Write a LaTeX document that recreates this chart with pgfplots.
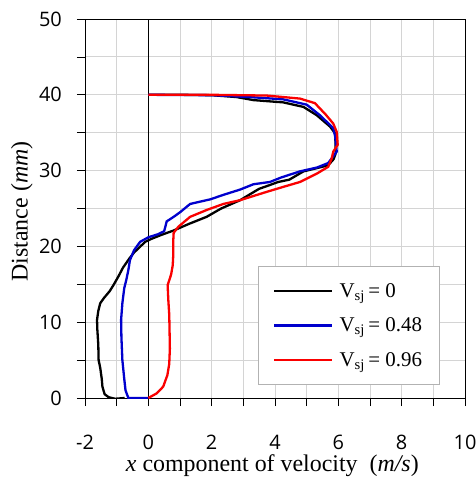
\documentclass[border=0pt]{standalone}
\usepackage{fontspec}
\setmainfont{Liberation Serif}
\newfontfamily\tickfont{Open Sans}
\usepackage{pgfplots}
\pgfplotsset{compat=1.18}
\definecolor{gridgray}{RGB}{212,212,212}
\definecolor{myblue}{RGB}{0,0,205}
\definecolor{myred}{RGB}{250,0,0}
\pgfplotsset{mylegline/.style={legend image code/.code={\draw[##1] (0bp,0bp) -- (58bp,0bp);}}}
\begin{document}
\begin{tikzpicture}
\begin{axis}[
  name=main,
  scale only axis, width=380bp, height=379bp,
  xmin=-2, xmax=10, ymin=0, ymax=50,
  xtick={-2,0,...,10}, minor xtick={-1,1,...,9},
  ytick={0,10,...,50}, minor ytick={5,15,...,45},
  grid=both,
  major grid style={gridgray, line width=1pt},
  minor grid style={gridgray, line width=1pt},
  axis line style={black, line width=1pt},
  tick align=outside, major tick length=8bp, minor tick length=8bp,
  tick style={black, line width=0.8pt},
  xtick pos=bottom, ytick pos=left,
  /pgf/number format/assume math mode=true,
  tick label style={font=\tickfont\fontsize{20}{24}\selectfont, inner sep=1bp},
  xticklabel style={yshift=-28bp},
  yticklabel style={xshift=-14bp},
  label style={font=\fontsize{24}{28}\selectfont, inner sep=0pt},
  xlabel={\textit{x} component of velocity~~(\textit{m/s})},
  xlabel style={at={(axis description cs:0.493,-0.178)}, anchor=center},
  ylabel={Distance (\textit{mm})},
  ylabel style={at={(axis description cs:-0.166,0.492)}, anchor=center},
  legend style={at={(axis cs:3.46,17.4)}, anchor=north west, draw=gray!60, line width=0.8pt,
    font=\fontsize{21}{24}\selectfont, row sep=15bp, column sep=4bp, inner xsep=15bp, inner ysep=15bp},
  legend cell align=left,
]
\draw[black, line width=0.8pt] (axis cs:0,0) -- (axis cs:0,50);
\addplot[black, line width=2.3bp, mylegline] coordinates {
(-0.75,0.0) (-1.05,-0.1) (-1.25,0.1) (-1.38,0.5) (-1.45,1.5) (-1.47,2.5) (-1.52,4.0) (-1.57,5.0) (-1.58,7) (-1.61,9) (-1.62,10.3) (-1.58,11.5) (-1.52,12.5) (-1.4,13.2) (-1.22,14.1) (-1.1,14.9) (-0.95,16.0) (-0.8,17.2) (-0.6,18.4) (-0.45,19.2) (-0.25,20.0) (-0.1,20.6) (0.1,21.0) (0.4,21.5) (0.8,22.1) (1.3,23.0) (1.84,23.9) (2.3,25.0) (2.9,26.1) (3.5,27.6) (3.84,28.1) (4.1,28.5) (4.45,28.8) (4.9,29.9) (5.3,30.3) (5.68,30.7) (5.85,31.5) (5.92,32.3) (5.9,34.9) (5.74,35.8) (5.32,37.3) (4.9,38.4) (4.26,39.0) (3.32,39.3) (2.79,39.7) (2.0,39.95) (1.0,40) (0,40)
};
\addlegendentry{V\textsubscript{sj}\,= 0}
\addplot[myblue, line width=2.3bp, mylegline] coordinates {
(0,0) (-0.63,0) (-0.72,1.0) (-0.76,2.5) (-0.82,5.0) (-0.85,8) (-0.86,10.3) (-0.82,12.5) (-0.76,14.5) (-0.7,15.5) (-0.63,16.9) (-0.58,18.2) (-0.45,19.5) (-0.26,20.6) (0,21.2) (0.3,21.6) (0.5,22.0) (0.58,23.3) (0.8,23.9) (1.0,24.5) (1.32,25.6) (1.63,25.9) (1.95,26.2) (2.37,26.8) (2.9,27.5) (3.32,28.2) (3.84,28.5) (4.2,29.1) (4.79,29.9) (5.32,30.4) (5.68,31.0) (5.95,32.5) (5.9,34.5) (5.84,35.6) (5.42,37.3) (5.0,38.7) (4.26,39.4) (3.21,39.7) (2.0,39.95) (0,40)
};
\addlegendentry{V\textsubscript{sj}\,= 0.48}
\addplot[myred, line width=2.3bp, mylegline] coordinates {
(0,0) (0.26,0.6) (0.47,1.5) (0.6,3.0) (0.66,4.5) (0.68,6.5) (0.67,9) (0.66,11) (0.63,13) (0.61,14.9) (0.72,16.3) (0.77,17.5) (0.79,19.1) (0.79,21.0) (0.8,21.8) (0.95,22.6) (1.32,23.9) (1.84,24.8) (2.37,25.6) (2.9,26.1) (3.74,27.2) (4.3,27.9) (4.79,28.5) (5.32,29.6) (5.68,30.5) (5.79,31.6) (5.84,32.5) (5.98,33.4) (5.95,35.1) (5.84,36.2) (5.6,37.4) (5.26,38.9) (4.79,39.5) (3.74,39.9) (2.0,40) (0,40)
};
\addlegendentry{V\textsubscript{sj}\,= 0.96}
\end{axis}
\pgfresetboundingbox
\path ([xshift=-85bp,yshift=-80bp]main.south west) rectangle ([xshift=11bp,yshift=19bp]main.north east);
\end{tikzpicture}
\end{document}
